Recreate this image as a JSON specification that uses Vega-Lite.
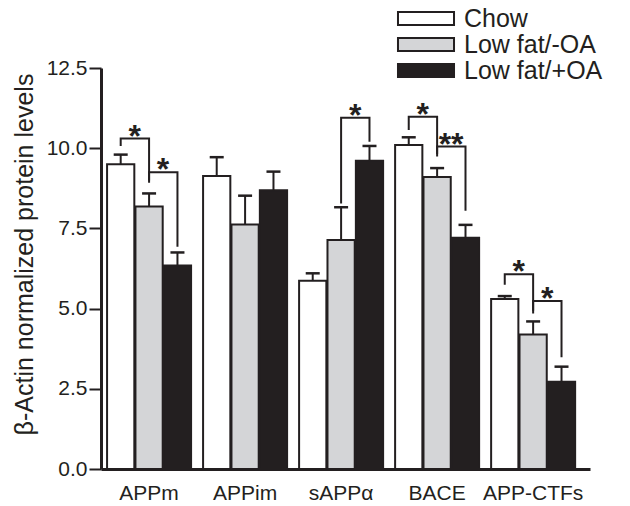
{
  "$schema": "https://vega.github.io/schema/vega-lite/v6.json",
  "width": 489,
  "height": 401,
  "autosize": "none",
  "padding": {"left": 101, "top": 68, "right": 40, "bottom": 37},
  "background": "white",
  "config": {"view": {"stroke": null}, "font": "Liberation Sans"},
  "datasets": {
    "bars": [
      {"group": "APPm", "series": "Chow", "mean": 9.50, "upper": 9.80},
      {"group": "APPm", "series": "Low fat/-OA", "mean": 8.18, "upper": 8.59},
      {"group": "APPm", "series": "Low fat/+OA", "mean": 6.34, "upper": 6.75},
      {"group": "APPim", "series": "Chow", "mean": 9.13, "upper": 9.72},
      {"group": "APPim", "series": "Low fat/-OA", "mean": 7.62, "upper": 8.52},
      {"group": "APPim", "series": "Low fat/+OA", "mean": 8.69, "upper": 9.27},
      {"group": "sAPPα", "series": "Chow", "mean": 5.87, "upper": 6.10},
      {"group": "sAPPα", "series": "Low fat/-OA", "mean": 7.14, "upper": 8.16},
      {"group": "sAPPα", "series": "Low fat/+OA", "mean": 9.61, "upper": 10.07},
      {"group": "BACE", "series": "Chow", "mean": 10.10, "upper": 10.34},
      {"group": "BACE", "series": "Low fat/-OA", "mean": 9.10, "upper": 9.38},
      {"group": "BACE", "series": "Low fat/+OA", "mean": 7.21, "upper": 7.61},
      {"group": "APP-CTFs", "series": "Chow", "mean": 5.30, "upper": 5.39},
      {"group": "APP-CTFs", "series": "Low fat/-OA", "mean": 4.19, "upper": 4.60},
      {"group": "APP-CTFs", "series": "Low fat/+OA", "mean": 2.72, "upper": 3.19}
    ],
    "brackets": [
      {"id": "a1", "ord": 1, "group": "APPm", "series": "Chow", "y": 10.07},
      {"id": "a1", "ord": 2, "group": "APPm", "series": "Chow", "y": 10.30},
      {"id": "a1", "ord": 3, "group": "APPm", "series": "Low fat/-OA", "y": 10.30},
      {"id": "a1", "ord": 4, "group": "APPm", "series": "Low fat/-OA", "y": 8.99},
      {"id": "a2", "ord": 1, "group": "APPm", "series": "Low fat/-OA", "y": 8.92},
      {"id": "a2", "ord": 2, "group": "APPm", "series": "Low fat/-OA", "y": 9.25},
      {"id": "a2", "ord": 3, "group": "APPm", "series": "Low fat/+OA", "y": 9.25},
      {"id": "a2", "ord": 4, "group": "APPm", "series": "Low fat/+OA", "y": 6.93},
      {"id": "s1", "ord": 1, "group": "sAPPα", "series": "Low fat/-OA", "y": 8.28},
      {"id": "s1", "ord": 2, "group": "sAPPα", "series": "Low fat/-OA", "y": 10.95},
      {"id": "s1", "ord": 3, "group": "sAPPα", "series": "Low fat/+OA", "y": 10.95},
      {"id": "s1", "ord": 4, "group": "sAPPα", "series": "Low fat/+OA", "y": 10.20},
      {"id": "b1", "ord": 1, "group": "BACE", "series": "Chow", "y": 10.57},
      {"id": "b1", "ord": 2, "group": "BACE", "series": "Chow", "y": 10.98},
      {"id": "b1", "ord": 3, "group": "BACE", "series": "Low fat/-OA", "y": 10.98},
      {"id": "b1", "ord": 4, "group": "BACE", "series": "Low fat/-OA", "y": 9.74},
      {"id": "b2", "ord": 1, "group": "BACE", "series": "Low fat/-OA", "y": 9.82},
      {"id": "b2", "ord": 2, "group": "BACE", "series": "Low fat/-OA", "y": 10.05},
      {"id": "b2", "ord": 3, "group": "BACE", "series": "Low fat/+OA", "y": 10.05},
      {"id": "b2", "ord": 4, "group": "BACE", "series": "Low fat/+OA", "y": 8.05},
      {"id": "c1", "ord": 1, "group": "APP-CTFs", "series": "Chow", "y": 5.74},
      {"id": "c1", "ord": 2, "group": "APP-CTFs", "series": "Chow", "y": 6.07},
      {"id": "c1", "ord": 3, "group": "APP-CTFs", "series": "Low fat/-OA", "y": 6.07},
      {"id": "c1", "ord": 4, "group": "APP-CTFs", "series": "Low fat/-OA", "y": 4.85},
      {"id": "c2", "ord": 1, "group": "APP-CTFs", "series": "Low fat/-OA", "y": 4.93},
      {"id": "c2", "ord": 2, "group": "APP-CTFs", "series": "Low fat/-OA", "y": 5.24},
      {"id": "c2", "ord": 3, "group": "APP-CTFs", "series": "Low fat/+OA", "y": 5.24},
      {"id": "c2", "ord": 4, "group": "APP-CTFs", "series": "Low fat/+OA", "y": 3.48}
    ],
    "stars": [
      {"group": "APPm", "series": "Chow", "y": 10.30, "label": "*"},
      {"group": "APPm", "series": "Low fat/-OA", "y": 9.25, "label": "*"},
      {"group": "sAPPα", "series": "Low fat/-OA", "y": 10.95, "label": "*"},
      {"group": "BACE", "series": "Chow", "y": 10.98, "label": "*"},
      {"group": "BACE", "series": "Low fat/-OA", "y": 10.05, "label": "**"},
      {"group": "APP-CTFs", "series": "Chow", "y": 6.07, "label": "*"},
      {"group": "APP-CTFs", "series": "Low fat/-OA", "y": 5.24, "label": "*"}
    ]
  },
  "encoding": {
    "x": {
      "field": "group",
      "type": "nominal",
      "scale": {
        "domain": ["APPm", "APPim", "sAPPα", "BACE", "APP-CTFs"],
        "paddingInner": 0.125,
        "paddingOuter": 0.109,
        "align": 0.29
      },
      "axis": {
        "title": null,
        "domainWidth": 3,
        "domainColor": "#231f20",
        "ticks": false,
        "tickSize": 0,
        "labelFontSize": 21,
        "labelColor": "#231f20",
        "labelPadding": 13,
        "labelAngle": 0
      }
    },
    "xOffset": {
      "field": "series",
      "type": "nominal",
      "scale": {"domain": ["Chow", "Low fat/-OA", "Low fat/+OA"], "paddingInner": 0.04}
    }
  },
  "layer": [
    {
      "data": {"name": "bars"},
      "mark": {"type": "bar", "stroke": "#231f20", "strokeWidth": 2},
      "encoding": {
        "y": {
          "field": "mean",
          "type": "quantitative",
          "scale": {"domain": [0, 12.5], "nice": false},
          "axis": {
            "title": "β-Actin normalized protein levels",
            "values": [0, 2.5, 5, 7.5, 10, 12.5],
            "format": ".1f",
            "grid": false,
            "domainWidth": 3,
            "domainColor": "#231f20",
            "tickWidth": 2,
            "tickSize": 12,
            "tickColor": "#231f20",
            "labelFontSize": 21,
            "labelColor": "#231f20",
            "labelPadding": 2,
            "titleFontSize": 25,
            "titleFontWeight": "normal",
            "titleColor": "#231f20",
            "titleX": -77,
            "titleY": 186,
            "titleAngle": 270,
            "titleAlign": "center",
            "titleBaseline": "middle"
          }
        },
        "fill": {
          "field": "series",
          "type": "nominal",
          "scale": {
            "domain": ["Chow", "Low fat/-OA", "Low fat/+OA"],
            "range": ["#ffffff", "#d4d5d7", "#231f20"]
          },
          "legend": {
            "title": null,
            "orient": "none",
            "legendX": 312.5,
            "legendY": -62,
            "padding": 0,
            "symbolType": "M-4.31,-1L4.31,-1L4.31,1L-4.31,1Z",
            "symbolSize": 169,
            "symbolStrokeColor": "#231f20",
            "symbolStrokeWidth": 2,
            "symbolOpacity": 1,
            "labelFontSize": 25,
            "labelColor": "#231f20",
            "labelOffset": 25.5,
            "labelLimit": 300,
            "rowPadding": 0
          }
        }
      }
    },
    {
      "data": {"name": "bars"},
      "mark": {"type": "rule", "strokeWidth": 2, "color": "#231f20"},
      "encoding": {
        "y": {"field": "mean", "type": "quantitative"},
        "y2": {"field": "upper"}
      }
    },
    {
      "data": {"name": "bars"},
      "mark": {"type": "tick", "orient": "horizontal", "size": 14, "thickness": 2.5, "color": "#231f20", "opacity": 1},
      "encoding": {
        "y": {"field": "upper", "type": "quantitative"}
      }
    },
    {
      "data": {"name": "brackets"},
      "mark": {"type": "line", "strokeWidth": 2, "color": "#231f20"},
      "encoding": {
        "y": {"field": "y", "type": "quantitative"},
        "detail": {"field": "id", "type": "nominal"},
        "order": {"field": "ord", "type": "quantitative"}
      }
    },
    {
      "data": {"name": "stars"},
      "mark": {"type": "text", "fontSize": 32, "fontWeight": "bold", "dx": 14, "dy": 8, "baseline": "alphabetic", "align": "center", "color": "#231f20"},
      "encoding": {
        "y": {"field": "y", "type": "quantitative"},
        "text": {"field": "label", "type": "nominal"}
      }
    }
  ]
}
